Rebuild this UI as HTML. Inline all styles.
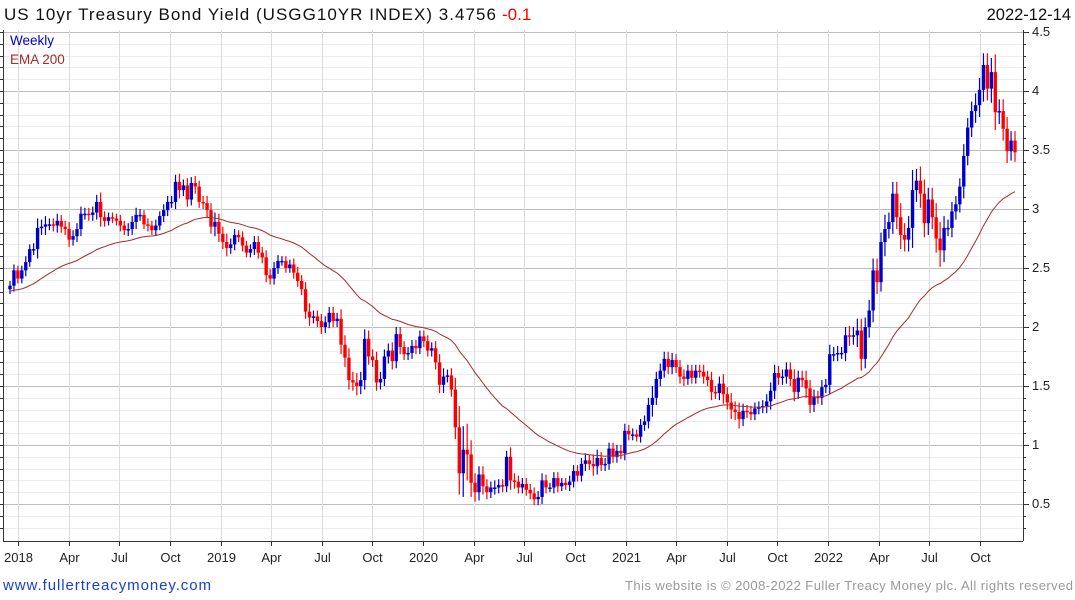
<!DOCTYPE html>
<html><head><meta charset="utf-8"><style>
body{margin:0;background:#fff;width:1075px;height:600px;overflow:hidden;font-family:"Liberation Sans",sans-serif}
svg{position:absolute;left:0;top:0}
</style></head><body>
<svg id="c" width="1075" height="600"></svg>
<script>
const closes=[2.35,2.48,2.41,
2.48,2.55,2.66,2.66, 2.84,2.85,2.87,2.87, 2.86,2.90,2.85,2.83,2.74, 2.77,2.83,2.96,2.96, 2.95,2.97,3.06,2.93, 2.90,2.93,2.92,2.90,2.86, 2.82,2.83,2.89,2.95, 2.95,2.87,2.86,2.82,2.86, 2.94,2.99,3.06,3.06, 3.23,3.16,3.20,3.08, 3.22,3.19,3.06,3.05,2.99, 2.85,2.89,2.79,2.72,
2.67,2.70,2.78,2.76, 2.69,2.63,2.66,2.72, 2.63,2.59,2.44,2.41, 2.50,2.56,2.56,2.50, 2.53,2.46,2.39,2.32,2.13, 2.08,2.09,2.05,2.00, 2.04,2.12,2.05,2.07, 1.85,1.74,1.55,1.53,1.50, 1.55,1.90,1.75,1.72, 1.53,1.56,1.75,1.80,1.71, 1.94,1.83,1.77,1.78, 1.84,1.82,1.92,1.88,
1.80,1.82,1.70,1.51, 1.58,1.59,1.47,1.15, 0.76,0.96,0.92,0.68, 0.60,0.75,0.65,0.60, 0.64,0.64,0.66,0.65,0.90, 0.70,0.69,0.64,0.67, 0.62,0.59,0.54,0.56, 0.70,0.64,0.64,0.72, 0.65,0.68,0.66,0.69, 0.78,0.74,0.84,0.87,0.84, 0.82,0.89,0.83,0.84, 0.97,0.90,0.95,0.93,
1.12,1.09,1.09,1.07, 1.17,1.20,1.34,1.40, 1.56,1.63,1.73,1.66,1.72, 1.66,1.58,1.56,1.63, 1.57,1.63,1.62,1.58, 1.55,1.45,1.44,1.52, 1.43,1.36,1.30,1.28,1.22, 1.29,1.28,1.26,1.31, 1.32,1.33,1.37,1.46, 1.61,1.57,1.58,1.64,1.56, 1.45,1.57,1.55,1.48, 1.34,1.41,1.40,1.49,1.51,
1.77,1.77,1.78,1.78, 1.93,1.92,1.93,1.97, 1.73,2.00,2.14,2.48, 2.38,2.72,2.83,2.89, 3.13,2.93,2.78,2.74, 2.84,3.16,3.24,3.13,2.88, 3.08,2.93,2.75,2.65, 2.84,2.84,2.98,3.04, 3.19,3.45,3.69,3.83, 3.88,4.01,4.22,4.02, 4.16,3.82,3.83,3.68, 3.49,3.58,3.48];
const wicks=[0.04,0.05,0.04,
0.04,0.05,0.04,0.05, 0.08,0.06,0.07,0.05, 0.05,0.06,0.05,0.05,0.06, 0.05,0.05,0.06,0.05, 0.05,0.05,0.06,0.08, 0.05,0.04,0.04,0.04,0.05, 0.04,0.05,0.05,0.06, 0.05,0.04,0.05,0.04,0.05, 0.04,0.05,0.05,0.05, 0.06,0.07,0.05,0.06, 0.05,0.06,0.05,0.05,0.06, 0.06,0.08,0.07,0.06,
0.07,0.05,0.05,0.04, 0.05,0.04,0.04,0.05, 0.05,0.05,0.06,0.05, 0.05,0.05,0.04,0.04, 0.04,0.05,0.05,0.05,0.06, 0.07,0.05,0.05,0.06, 0.05,0.05,0.05,0.05, 0.08,0.08,0.08,0.07,0.08, 0.07,0.08,0.07,0.06, 0.07,0.06,0.06,0.06,0.07, 0.06,0.06,0.05,0.05, 0.05,0.05,0.05,0.05,
0.05,0.05,0.06,0.07, 0.07,0.05,0.06,0.10, 0.18,0.20,0.22,0.12, 0.08,0.07,0.07,0.06, 0.05,0.06,0.05,0.05,0.05, 0.08,0.06,0.05,0.05, 0.05,0.05,0.05,0.05, 0.06,0.05,0.04,0.05, 0.05,0.04,0.04,0.05, 0.05,0.05,0.05,0.06,0.05, 0.08,0.07,0.05,0.05, 0.05,0.05,0.05,0.05,
0.06,0.05,0.05,0.04, 0.05,0.05,0.06,0.10, 0.06,0.06,0.06,0.06,0.06, 0.05,0.06,0.06,0.05, 0.05,0.05,0.05,0.06, 0.05,0.07,0.05,0.06, 0.08,0.06,0.08,0.07,0.08, 0.06,0.05,0.05,0.05, 0.05,0.05,0.06,0.07, 0.07,0.06,0.06,0.06,0.06, 0.08,0.06,0.06,0.08, 0.07,0.06,0.05,0.06,0.05,
0.08,0.06,0.06,0.05, 0.07,0.08,0.07,0.10, 0.10,0.08,0.09,0.10, 0.10,0.08,0.12,0.08, 0.10,0.10,0.12,0.10, 0.10,0.17,0.10,0.12,0.12, 0.10,0.10,0.12,0.14, 0.10,0.07,0.08,0.07, 0.07,0.10,0.08,0.08, 0.10,0.10,0.10,0.10, 0.12,0.15,0.10,0.10, 0.10,0.08,0.08];
const yTicks=[0.5,1,1.5,2,2.5,3,3.5,4,4.5];
const yTickLabels=["0.5","1","1.5","2","2.5","3","3.5","4","4.5"];
const xTickLabels=["2018","Apr","Jul","Oct","2019","Apr","Jul","Oct","2020","Apr","Jul","Oct","2021","Apr","Jul","Oct","2022","Apr","Jul","Oct"];
const xTickMonths=[0,3,6,9,12,15,18,21,24,27,30,33,36,39,42,45,48,51,54,57];
const emaSeed=2.3, emaAlpha=2/41;

const NS='http://www.w3.org/2000/svg', svg=document.getElementById('c');
function mk(t,a,p){const e=document.createElementNS(NS,t);for(const k in a)e.setAttribute(k,a[k]);(p||svg).appendChild(e);return e;}
const L=3,R=1023,T=30,B=541;
const y=v=>504-(v-0.5)*118;
const xi=i=>10+i*(1015-10)/(closes.length-1);
const xm=m=>18+m*(980-18)/57;

const grid=mk('g',{});
for(let v=0.3;v<4.55;v+=0.1){const yy=Math.round(y(v))+0.5;if(yy<T||yy>B)continue;
 const major=Math.abs(v*2-Math.round(v*2))<0.01;
 mk('line',{x1:L,x2:R,y1:yy,y2:yy,stroke:major?'#bdbdbd':'#ececec','stroke-width':1},grid);
 mk('line',{x1:R,x2:R+(major?6:3),y1:yy,y2:yy,stroke:'#333'},grid);
 mk('line',{x1:L-3,x2:L,y1:yy,y2:yy,stroke:'#333'},grid);}
xTickMonths.forEach((m,k)=>{const xx=Math.round(xm(m))+0.5;
 mk('line',{x1:xx,x2:xx,y1:T,y2:B,stroke:'#dcdcdc'},grid);
 mk('line',{x1:xx,x2:xx,y1:B,y2:B+5,stroke:'#333'},grid);
 const t=mk('text',{x:xx,y:562,'text-anchor':'middle','font-size':13,fill:'#222'});t.textContent=xTickLabels[k];
 
 });
mk('line',{x1:R+0.5,x2:R+0.5,y1:T,y2:B,stroke:'#333'});
mk('line',{x1:L+0.5,x2:L+0.5,y1:T,y2:B,stroke:'#333'});
mk('line',{x1:L,x2:R,y1:B+0.5,y2:B+0.5,stroke:'#333'});
yTicks.forEach((v,k)=>{const t=mk('text',{x:1032,y:y(v)+4,'font-size':13,fill:'#222'});t.textContent=yTickLabels[k];
 
 });

const cg=mk('g',{});
let prev=closes[0]-0.03;
closes.forEach((c,i)=>{const o=prev;prev=c;const up=c>=o;const col=up?'#0000cc':'#ff0000';
 const hi=Math.max(o,c)+wicks[i],lo=Math.min(o,c)-wicks[i];const xx=xi(i);
 const g=mk('g',{},cg);
 
 
 mk('line',{x1:xx,x2:xx,y1:y(hi),y2:y(lo),stroke:col,'stroke-width':1.2},g);
 const top=y(Math.max(o,c)),h=Math.max(1.5,Math.abs(y(o)-y(c)));
 mk('rect',{x:xx-1.7,y:top,width:3.4,height:h,fill:col},g);});

let e=emaSeed,pts=[];
closes.forEach((c,i)=>{e=e+emaAlpha*(c-e);pts.push(xi(i).toFixed(1)+','+y(e).toFixed(1));});
const ema=mk('polyline',{points:pts.join(' '),fill:'none',stroke:'#a52a2a','stroke-width':1});



function txt(x,yy,s,a,name){const t=mk('text',Object.assign({x:x,y:yy},a));t.textContent=s;return t;}
const title=mk('text',{x:4,y:20,'font-size':17,fill:'#111'});


const tm=mk('tspan',{textLength:492,lengthAdjust:'spacing'},title);tm.textContent='US 10yr Treasury Bond Yield (USGG10YR INDEX) 3.4756';
const ch=mk('tspan',{fill:'#ff0000',x:502},title);ch.textContent='-0.1';
txt(1071,20,'2022-12-14',{'font-size':16.5,fill:'#111','text-anchor':'end'},'chart-date');
txt(10,45,'Weekly',{'font-size':13.5,fill:'#0000cc'},'legend-weekly');
txt(10,64,'EMA 200',{'font-size':13.5,fill:'#a52a2a'},'legend-ema');
const link=txt(3,590,'www.fullertreacymoney.com',{'font-size':15,fill:'#1a3fcc',textLength:208,lengthAdjust:'spacing'},'site-link');

txt(625,590,'This website is © 2008-2022 Fuller Treacy Money plc. All rights reserved',{'font-size':13,fill:'#999',textLength:448,lengthAdjust:'spacing'},'copyright-note');
</script>
</body></html>
